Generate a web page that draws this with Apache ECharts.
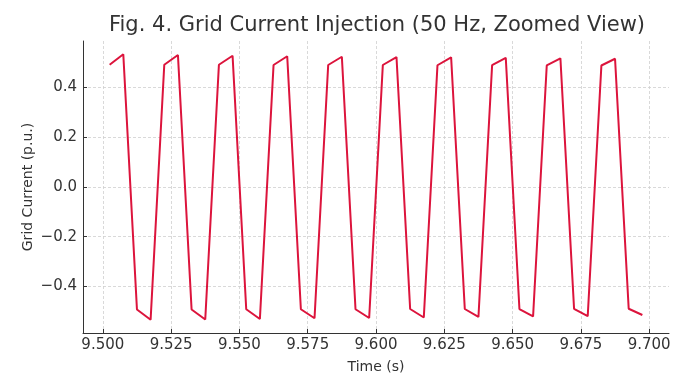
<!DOCTYPE html>
<html>
<head>
<meta charset="utf-8">
<script src="https://cdn.jsdelivr.net/npm/echarts@6/dist/echarts.min.js"></script>
<style>
  html, body { margin: 0; padding: 0; background: #fff; }
  #chart { width: 685px; height: 376px; }
</style>
</head>
<body>
<div id="chart"></div>
<script>
// sample times (s)
var times = [
  9.5025, 9.5075, 9.5125, 9.5175, 9.5225, 9.5275, 9.5325, 9.5375,
  9.5425, 9.5475, 9.5525, 9.5575, 9.5625, 9.5675, 9.5725, 9.5775,
  9.5825, 9.5875, 9.5925, 9.5975, 9.6025, 9.6075, 9.6125, 9.6175,
  9.6225, 9.6275, 9.6325, 9.6375, 9.6425, 9.6475, 9.6525, 9.6575,
  9.6625, 9.6675, 9.6725, 9.6775, 9.6825, 9.6875, 9.6925, 9.6975
];
// grid current (p.u.)
var current = [
  0.490, 0.532, -0.492, -0.533,
  0.490, 0.529, -0.492, -0.532,
  0.490, 0.526, -0.491, -0.530,
  0.489, 0.524, -0.491, -0.527,
  0.489, 0.522, -0.491, -0.526,
  0.489, 0.521, -0.490, -0.524,
  0.488, 0.520, -0.490, -0.522,
  0.488, 0.518, -0.490, -0.520,
  0.487, 0.516, -0.489, -0.519,
  0.487, 0.514, -0.489, -0.514
];
var xTicks = [9.500, 9.525, 9.550, 9.575, 9.600, 9.625, 9.650, 9.675, 9.700];
var yTicks = [-0.4, -0.2, 0.0, 0.2, 0.4];

function padRange(arr) {
  var lo = Math.min.apply(null, arr), hi = Math.max.apply(null, arr);
  var m = (hi - lo) * 0.05;
  return [lo - m, hi + m];
}
var xr = padRange(times);
var yr = padRange(current);

var font = 'DejaVu Sans';
var gridLine = { show: true, lineStyle: { color: '#cfcfcf', width: 0.8, type: [3, 2] } };

var chart = echarts.init(document.getElementById('chart'));
chart.setOption({
  animation: false,
  title: {
    text: 'Fig. 4. Grid Current Injection (50 Hz, Zoomed View)',
    left: 372, top: 10, textAlign: 'center',
    textStyle: { fontFamily: font, fontSize: 21, fontWeight: 'normal', color: '#333' }
  },
  grid: { left: 83, right: 16, top: 41, bottom: 43, outerBoundsMode: 'none', containLabel: false },
  xAxis: {
    type: 'value',
    min: xr[0], max: xr[1],
    name: 'Time (s)', nameLocation: 'middle', nameGap: 27,
    nameTextStyle: { fontFamily: font, fontSize: 14, color: '#333' },
    axisLine: { onZero: false, lineStyle: { color: '#333', width: 1 } },
    axisTick: { show: true, inside: true, length: 4, customValues: xTicks, lineStyle: { color: '#333' } },
    axisLabel: {
      customValues: xTicks, margin: 5,
      fontFamily: font, fontSize: 15, color: '#333',
      formatter: function (v) { return v.toFixed(3); }
    },
    splitLine: gridLine
  },
  yAxis: {
    type: 'value',
    min: yr[0], max: yr[1],
    name: 'Grid Current (p.u.)', nameLocation: 'middle', nameGap: 48,
    nameMoveOverlap: false,
    nameTextStyle: { fontFamily: font, fontSize: 14, color: '#333' },
    axisLine: { show: true, onZero: false, lineStyle: { color: '#333', width: 1 } },
    axisTick: { show: true, inside: true, length: 4, customValues: yTicks, lineStyle: { color: '#333' } },
    axisLabel: {
      customValues: yTicks, margin: 6,
      fontFamily: font, fontSize: 15, color: '#333',
      formatter: function (v) { return v.toFixed(1).replace('-', '\u2212'); }
    },
    splitLine: gridLine
  },
  series: [{
    type: 'line',
    data: times.map(function (t, i) { return [t, current[i]]; }),
    showSymbol: false,
    lineStyle: { color: '#DC143C', width: 2 },
    itemStyle: { color: '#DC143C' }
  }]
});
</script>
</body>
</html>
